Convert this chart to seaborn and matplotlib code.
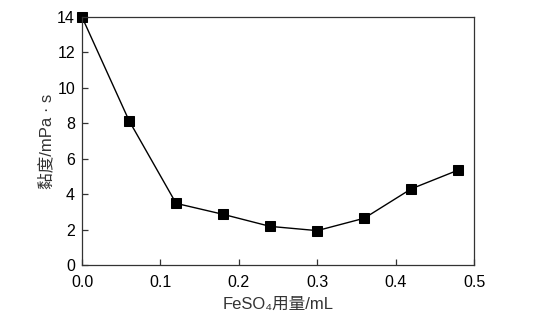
import matplotlib
matplotlib.use("Agg")
import matplotlib.pyplot as plt
import seaborn as sns
import pandas as pd

# FeSO4 dosage (mL) vs viscosity (mPa·s)
dosage = [0.00, 0.06, 0.12, 0.18, 0.24, 0.30, 0.36, 0.42, 0.48]
viscosity = [14.0, 8.15, 3.48, 2.86, 2.18, 1.94, 2.64, 4.30, 5.36]
x_ticks = [0.0, 0.1, 0.2, 0.3, 0.4, 0.5]
y_ticks = [0, 2, 4, 6, 8, 10, 12, 14]

sns.set_theme(style="ticks")
plt.rcParams["font.family"] = ["Liberation Sans", "Noto Sans CJK SC", "DejaVu Sans"]

df = pd.DataFrame({"dosage": dosage, "viscosity": viscosity})

fig = plt.figure(figsize=(5.4, 3.27), dpi=100)
ax = fig.add_axes([82 / 540, 1 - 265 / 327, (474 - 82) / 540, (265 - 17) / 327])

sns.lineplot(data=df, x="dosage", y="viscosity", ax=ax, color="black",
             linewidth=1.0, marker="s", markersize=6.5, markeredgecolor="black",
             markerfacecolor="black", clip_on=False)

ax.set_xlim(0, 0.5)
ax.set_ylim(0, 14)
ax.set_xticks(x_ticks)
ax.set_xticklabels([f"{t:.1f}" for t in x_ticks])
ax.set_yticks(y_ticks)
ax.set_yticklabels([str(t) for t in y_ticks])
ax.tick_params(direction="in", length=4, width=0.9, colors="#333333",
               labelcolor="black", labelsize=11.5, top=False, right=False)
ax.tick_params(axis="x", pad=7)
ax.tick_params(axis="y", pad=5)

for s in ax.spines.values():
    s.set_color("#333333")
    s.set_linewidth(0.9)
    s.set_visible(True)

ax.set_xlabel("FeSO₄用量/mL", fontsize=12, color="#333333", labelpad=5)
ax.set_ylabel("黏度/mPa · s", fontsize=12, color="#333333", labelpad=2)

fig.savefig("out.png", dpi=100)
